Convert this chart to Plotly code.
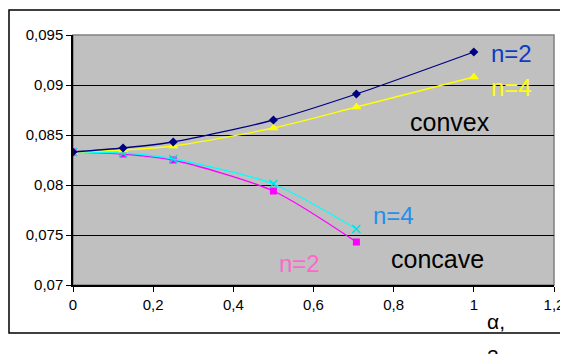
import plotly.graph_objects as go

alpha_convex = [0, 0.125, 0.25, 0.5, 0.707, 1.0]
convex_n2 = [0.0833, 0.0837, 0.0843, 0.0865, 0.0891, 0.0933]
convex_n4 = [0.0833, 0.0835, 0.0839, 0.0857, 0.0878, 0.0908]
alpha_concave = [0, 0.125, 0.25, 0.5, 0.707]
concave_n2 = [0.0833, 0.0831, 0.0825, 0.0794, 0.0743]
concave_n4 = [0.0833, 0.0832, 0.0826, 0.0801, 0.0756]
x_ticks = [0, 0.2, 0.4, 0.6, 0.8, 1.0, 1.2]
x_ticklabels = ["0", "0,2", "0,4", "0,6", "0,8", "1", "1,2"]
y_ticks = [0.07, 0.075, 0.08, 0.085, 0.09, 0.095]
y_ticklabels = ["0,07", "0,075", "0,08", "0,085", "0,09", "0,095"]

fig = go.Figure()
fig.add_trace(go.Scatter(x=alpha_concave, y=concave_n2, mode="lines+markers",
                         line=dict(color="#ff00ff", width=1.3, shape="spline", smoothing=0.7),
                         marker=dict(symbol="square", size=7, color="#ff00ff")))
fig.add_trace(go.Scatter(x=alpha_concave, y=concave_n4, mode="lines+markers",
                         line=dict(color="#00ffff", width=1.3, shape="spline", smoothing=0.7),
                         marker=dict(symbol="x-thin", size=8, line=dict(color="#00e0e0", width=1.5))))
fig.add_trace(go.Scatter(x=alpha_convex, y=convex_n4, mode="lines+markers",
                         line=dict(color="#ffff00", width=1.3, shape="spline", smoothing=0.7),
                         marker=dict(symbol="triangle-up", size=9, color="#ffff00")))
fig.add_trace(go.Scatter(x=alpha_convex, y=convex_n2, mode="lines+markers",
                         line=dict(color="#000080", width=1.3, shape="spline", smoothing=0.7),
                         marker=dict(symbol="diamond", size=7, color="#000080")))

font_txt = "Liberation Sans, Arial, sans-serif"
annos = [
    dict(x=1.093, y=0.0932, text="n=2", color="#0a3cc8", size=24),
    dict(x=1.093, y=0.0898, text="n=4", color="#ffff00", size=24),
    dict(x=0.941, y=0.0863, text="convex", color="#000000", size=25),
    dict(x=0.800, y=0.0770, text="n=4", color="#1e90f0", size=24),
    dict(x=0.909, y=0.0726, text="concave", color="#000000", size=25),
    dict(x=0.566, y=0.0722, text="n=2", color="#ff66cc", size=24),
]
for a in annos:
    fig.add_annotation(x=a["x"], y=a["y"], xref="x", yref="y", text=a["text"], showarrow=False,
                       font=dict(family=font_txt, size=a["size"], color=a["color"]),
                       xanchor="center", yanchor="middle")

# axis title pieces (second line is cut by the bottom edge, as in the original)
fig.add_annotation(x=(496 - 73) / 481, y=(285 - 321) / 250, xref="paper", yref="paper",
                   text="α,", showarrow=False,
                   font=dict(family=font_txt, size=21, color="#000000"),
                   xanchor="center", yanchor="middle")
fig.add_annotation(x=(493 - 73) / 481, y=(285 - 356) / 250, xref="paper", yref="paper",
                   text="2", showarrow=False,
                   font=dict(family=font_txt, size=21, color="#000000"),
                   xanchor="center", yanchor="middle")

# outer chart frame
fig.add_shape(type="rect", xref="paper", yref="paper",
              x0=(9 - 73) / 481, x1=(572 - 73) / 481, y0=(285 - 333) / 250, y1=(285 - 10) / 250,
              line=dict(color="#000000", width=1.5), layer="below")
# plot area border
fig.add_shape(type="rect", xref="paper", yref="paper", x0=0, x1=1, y0=0, y1=1,
              line=dict(color="#808080", width=1.5), layer="below")

fig.update_xaxes(range=[0, 1.2], tickvals=x_ticks, ticktext=x_ticklabels,
                 showgrid=False, zeroline=False, showline=True, linecolor="#000000", linewidth=1.5,
                 ticks="outside", ticklen=5, tickcolor="#000000",
                 tickfont=dict(family=font_txt, size=15, color="#000000"))
fig.update_yaxes(range=[0.07, 0.095], tickvals=y_ticks, ticktext=y_ticklabels,
                 showgrid=True, gridcolor="#000000", gridwidth=1, zeroline=False,
                 showline=True, linecolor="#000000", linewidth=1.5,
                 ticks="outside", ticklen=5, tickcolor="#000000",
                 tickfont=dict(family=font_txt, size=15, color="#000000"))

# page body has an 8px default margin, so the figure is sized to end at the window edge
fig.update_layout(width=560, height=346, margin=dict(l=65, r=14, t=27, b=69, autoexpand=False),
                  plot_bgcolor="#c0c0c0", paper_bgcolor="#ffffff", showlegend=False)

fig.write_html("out.html")
